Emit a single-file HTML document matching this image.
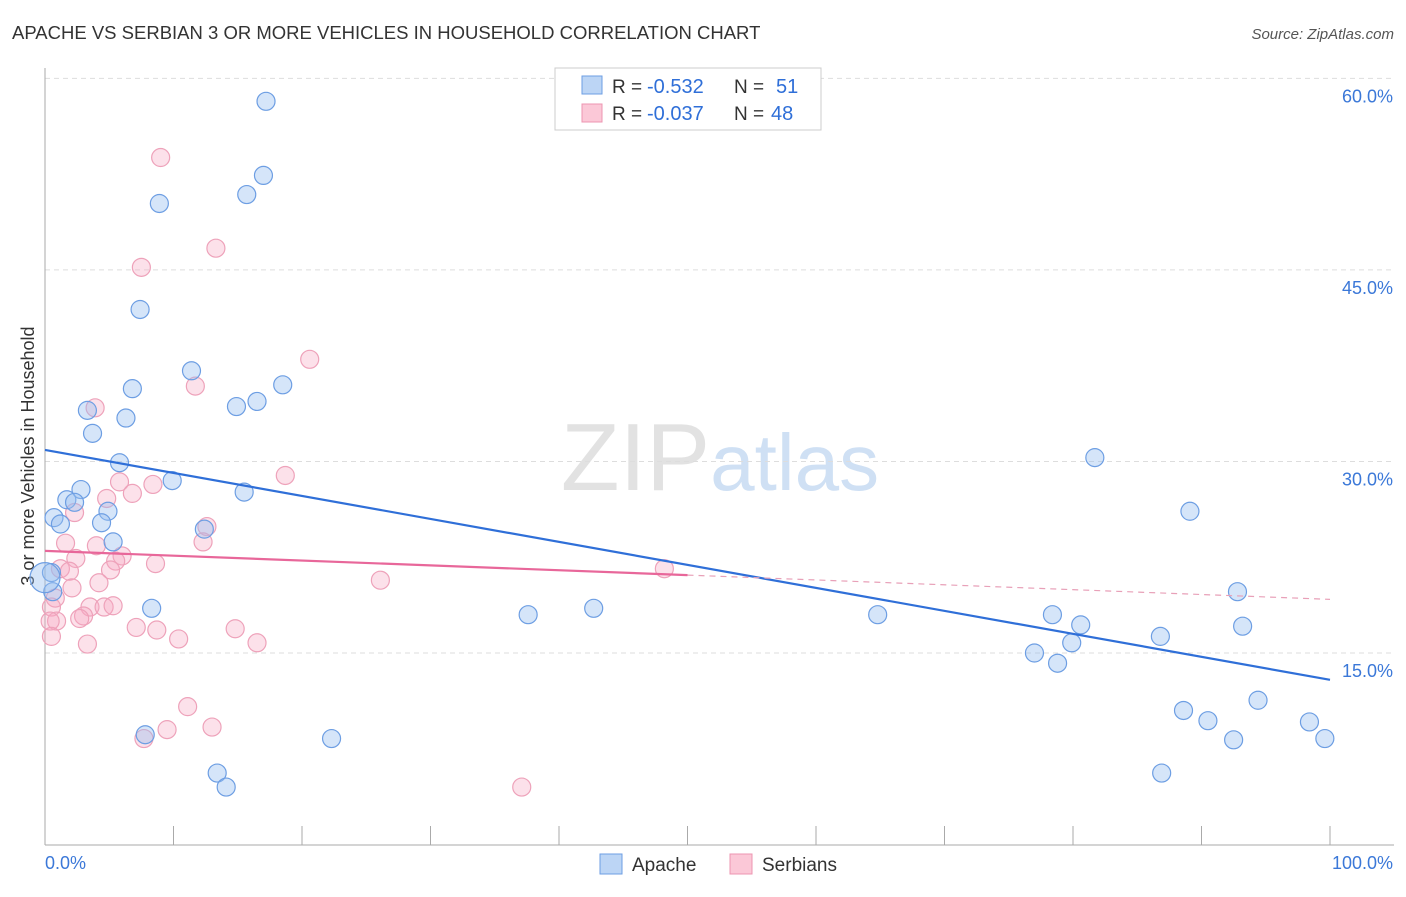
<!DOCTYPE html>
<html><head><meta charset="utf-8"><style>
body{margin:0;background:#fff;font-family:"Liberation Sans",sans-serif;}
svg text{font-family:"Liberation Sans",sans-serif;}
</style></head><body>
<svg id="c" width="1406" height="892" xmlns="http://www.w3.org/2000/svg">
<text x="12" y="39" font-size="18.5" fill="#333">APACHE VS SERBIAN 3 OR MORE VEHICLES IN HOUSEHOLD CORRELATION CHART</text>
<text x="1394" y="39" font-size="15" fill="#555" text-anchor="end" font-style="italic">Source: ZipAtlas.com</text>
<text x="720" y="490" font-size="96" text-anchor="middle" fill="#e2e2e2" font-family="Liberation Serif">ZIP<tspan fill="#cfe0f4" font-family="Liberation Sans" font-size="80">atlas</tspan></text>
<text transform="translate(34,456) rotate(-90)" font-size="18" fill="#333" text-anchor="middle">3 or more Vehicles in Household</text>
<g id="grid"></g><g id="axes"></g><g id="pts"></g><g id="lines"></g>
<g>
<rect x="555" y="68" width="266" height="62" fill="#fff" stroke="#ccc"/>
<rect x="582" y="76" width="20" height="18" fill="#bcd5f5" stroke="#6d9ee3"/>
<rect x="582" y="104" width="20" height="18" fill="#fbc8d7" stroke="#ec95b0"/>
<text x="612" y="93" font-size="19" fill="#333">R =</text>
<text x="647" y="93" font-size="20" fill="#2f6fd8">-0.532</text>
<text x="734" y="93" font-size="19" fill="#333">N =</text>
<text x="776" y="93" font-size="20" fill="#2f6fd8">51</text>
<text x="612" y="120" font-size="19" fill="#333">R =</text>
<text x="647" y="120" font-size="20" fill="#2f6fd8">-0.037</text>
<text x="734" y="120" font-size="19" fill="#333">N =</text>
<text x="771" y="120" font-size="20" fill="#2f6fd8">48</text>
</g>
<g>
<rect x="600" y="854" width="22" height="20" fill="#bcd5f5" stroke="#6d9ee3"/>
<text x="632" y="871" font-size="19" fill="#333">Apache</text>
<rect x="730" y="854" width="22" height="20" fill="#fbc8d7" stroke="#ec95b0"/>
<text x="762" y="871" font-size="19" fill="#333">Serbians</text>
</g>
</svg>
<script>
const yTicks=[15,30,45,60];
const yTickLabels=["15.0%","30.0%","45.0%","60.0%"];
const apacheX=[17.2,17.0,15.7,8.9,7.4,11.4,6.8,18.5,16.5,14.9,3.3,6.3,3.7,5.8,9.9,15.5,2.8,1.7,2.3,0.7,4.9,1.2,4.4,5.3,12.4,8.3,0.5,0.6,7.8,22.3,13.4,14.1,37.6,42.7,64.8,81.7,89.1,92.8,78.4,80.6,93.2,79.9,86.8,77.0,78.8,88.6,90.5,94.4,92.5,98.4,99.6,86.9,0.0];
const apacheY=[58.2,52.4,50.9,50.2,41.9,37.1,35.7,36.0,34.7,34.3,34.0,33.4,32.2,29.9,28.5,27.6,27.8,27.0,26.8,25.6,26.1,25.1,25.2,23.7,24.7,18.5,21.3,19.8,8.6,8.3,5.6,4.5,18.0,18.5,18.0,30.3,26.1,19.8,18.0,17.2,17.1,15.8,16.3,15.0,14.2,10.5,9.7,11.3,8.2,9.6,8.3,5.6,20.9];
const serbX=[9.0,13.3,7.5,20.6,11.7,3.9,18.7,8.4,5.8,6.8,4.8,2.3,12.6,12.3,1.6,4.0,6.0,5.5,2.4,8.6,5.1,1.2,1.9,4.2,2.1,26.1,48.2,0.8,0.5,3.5,4.6,5.3,3.0,2.7,0.9,0.4,7.1,8.7,14.8,10.4,0.5,3.3,16.5,11.1,13.0,9.5,7.7,37.1];
const serbY=[53.8,46.7,45.2,38.0,35.9,34.2,28.9,28.2,28.4,27.5,27.1,26.0,24.9,23.7,23.6,23.4,22.6,22.2,22.4,22.0,21.5,21.6,21.4,20.5,20.1,20.7,21.6,19.3,18.6,18.6,18.6,18.7,17.9,17.7,17.5,17.5,17.0,16.8,16.9,16.1,16.3,15.7,15.8,10.8,9.2,9.0,8.3,4.5];
const ns="http://www.w3.org/2000/svg";
const X=v=>45+v*12.85, Y=v=>653-(v-15)*12.77;
function mk(t,a,p){const e=document.createElementNS(ns,t);for(const k in a)e.setAttribute(k,a[k]);document.getElementById(p).appendChild(e);return e;}
yTicks.forEach((t,i)=>{
 const l=mk('line',{x1:45,x2:1394,y1:Y(t),y2:Y(t),stroke:'#ddd','stroke-dasharray':'5,4'},'grid');
 
 
 const tx=mk('text',{x:1393,y:Y(t)+24,'font-size':18,fill:'#3b78d8','text-anchor':'end'},'axes');
 tx.textContent=yTickLabels[i];
 
 
});
mk('line',{x1:45,x2:45,y1:68,y2:845,stroke:'#aaa'},'axes');
mk('line',{x1:45,x2:1394,y1:845,y2:845,stroke:'#aaa'},'axes');
for(let i=0;i<=10;i++){mk('line',{x1:X(i*10),x2:X(i*10),y1:826,y2:845,stroke:'#aaa'},'axes');}
let t0=mk('text',{x:45,y:869,'font-size':18,fill:'#3b78d8'},'axes');t0.textContent='0.0%';


let t1=mk('text',{x:1393,y:869,'font-size':18,fill:'#3b78d8','text-anchor':'end'},'axes');t1.textContent='100.0%';


serbX.forEach((x,i)=>{const c=mk('circle',{cx:X(x),cy:Y(serbY[i]),r:9,fill:'rgba(247,170,195,0.35)',stroke:'#eea2ba','stroke-width':1.2},'pts');
 
 });
apacheX.forEach((x,i)=>{const c=mk('circle',{cx:X(x),cy:Y(apacheY[i]),r:i==apacheX.length-1?15:9,fill:'rgba(150,190,240,0.4)',stroke:'#6d9ee3','stroke-width':1.2},'pts');
 
 });
let b=mk('line',{x1:X(0),y1:Y(30.9),x2:X(100),y2:Y(12.9),stroke:'#2f6fd8','stroke-width':2.2},'lines');


let p=mk('line',{x1:X(0),y1:Y(23.0),x2:X(50),y2:Y(21.1),stroke:'#e8679a','stroke-width':2.2},'lines');


let pd=mk('line',{x1:X(50),y1:Y(21.1),x2:X(100),y2:Y(19.2),stroke:'#e8a0b8','stroke-width':1.2,'stroke-dasharray':'6,5'},'lines');


</script>
</body></html>
